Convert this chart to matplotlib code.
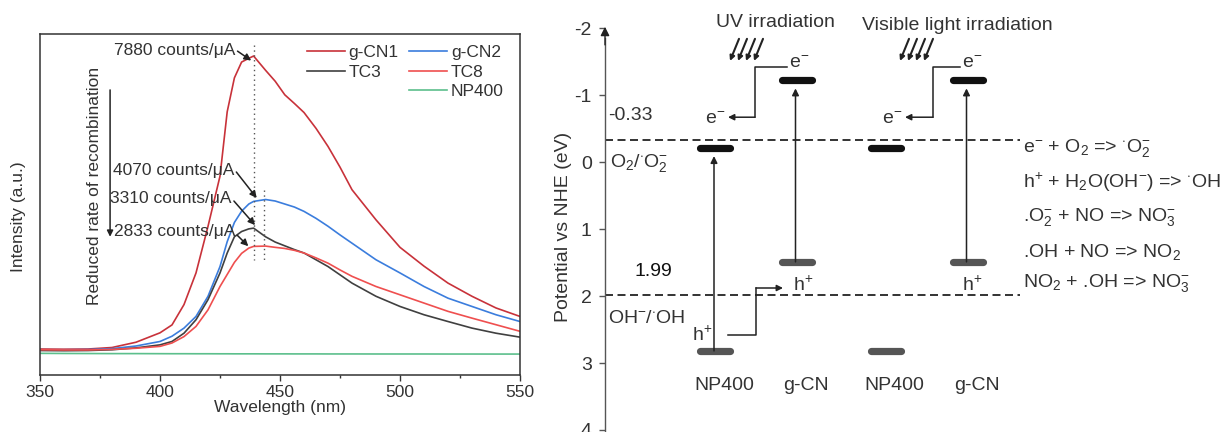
import matplotlib
matplotlib.use('Agg')
import matplotlib.pyplot as plt
from matplotlib.lines import Line2D

plt.rcParams['font.family'] = ['Liberation Sans', 'DejaVu Sans']
plt.rcParams['mathtext.fontset'] = 'custom'
plt.rcParams['mathtext.rm'] = 'Liberation Sans'
plt.rcParams['mathtext.it'] = 'Liberation Sans:italic'
plt.rcParams['mathtext.bf'] = 'Liberation Sans:bold'
plt.rcParams['axes.unicode_minus'] = False

# PL spectra (counts/uA)
wavelength = [350, 360, 370, 380, 390, 400, 405, 410, 415, 420, 425, 428, 431, 434,
              437, 439, 444, 448, 452, 456, 460, 465, 470, 475, 480, 490, 500, 510,
              520, 530, 540, 550]
gcn1 = [100, 95, 100, 140, 280, 530, 740, 1280, 2120, 3357, 4690, 6400, 7300, 7720,
        7820, 7880, 7500, 7210, 6850, 6620, 6380, 5960, 5480, 4930, 4330, 3530, 2800,
        2300, 1850, 1500, 1190, 965]
gcn2 = [80, 80, 85, 110, 180, 300, 440, 655, 965, 1500, 2290, 2950, 3460, 3760,
        3950, 4020, 4070, 4030, 3950, 3870, 3755, 3570, 3360, 3130, 2910, 2470, 2120,
        1760, 1450, 1230, 1010, 830]
tc3 = [60, 55, 60, 80, 130, 210, 300, 520, 877, 1410, 2120, 2650, 3080, 3220,
       3290, 3310, 3080, 2940, 2840, 2740, 2650, 2470, 2290, 2070, 1850, 1500, 1230,
       1010, 830, 655, 520, 415]
tc8 = [80, 75, 75, 90, 120, 170, 260, 430, 700, 1140, 1760, 2080, 2400, 2640,
       2780, 2825, 2833, 2800, 2770, 2720, 2650, 2520, 2380, 2200, 2030, 1760, 1540,
       1320, 1100, 920, 745, 570]
np400 = [-15, -18, -20, -22, -22, -24, -25, -25, -26, -26, -27, -27, -28, -28,
         -28, -28, -29, -29, -29, -30, -30, -30, -31, -31, -31, -32, -32, -32,
         -33, -33, -34, -34]

peak_values = [7880, 4070, 3310, 2833]

# band edges vs NHE (eV)
materials = ['NP400', 'g-CN', 'NP400', 'g-CN']
cb_edge = [-0.21, -1.22, -0.21, -1.22]
vb_edge = [2.82, 1.49, 2.82, 1.49]
excited = [True, True, False, True]
redox = [-0.33, 1.99]
reactions = [r'e$^{-}$ + O$_2$ => $^{\cdot}$O$_2^{-}$',
             r'h$^{+}$ + H$_2$O(OH$^{-}$) => $^{\cdot}$OH',
             r'.O$_2^{-}$ + NO => NO$_3^{-}$',
             r'.OH + NO => NO$_2$',
             r'NO$_2$ + .OH => NO$_3^{-}$']

W, H = 1221, 432
fig = plt.figure(figsize=(W / 100, H / 100), dpi=100)
txt = '#333333'

# ---------------- left: PL spectra ----------------
ax = fig.add_axes([40 / W, 1 - 375 / H, 480 / W, 341 / H])
fs = 12.5
l1, = ax.plot(wavelength, gcn1, color='#c8323a', lw=1.2, label='g-CN1')
l2, = ax.plot(wavelength, gcn2, color='#3b7ddd', lw=1.2, label='g-CN2')
l3, = ax.plot(wavelength, tc3, color='#404040', lw=1.2, label='TC3')
l4, = ax.plot(wavelength, tc8, color='#ef4f4f', lw=1.2, label='TC8')
l5, = ax.plot(wavelength, np400, color='#5cbf8c', lw=1.2, label='NP400')
ax.set_xlim(350, 550)
ax.set_ylim(-590, 8465)
ax.set_xticks([350, 400, 450, 500, 550])
ax.set_xticks([375, 425, 475, 525], minor=True)
ax.set_yticks([])
ax.tick_params(axis='x', which='major', direction='out', length=4, width=1,
               color='#333', labelsize=fs, labelcolor=txt, pad=3)
ax.tick_params(axis='x', which='minor', direction='out', length=2.5, width=1, color='#333')
for s in ax.spines.values():
    s.set_color('#333333')
    s.set_linewidth(1.1)
ax.set_xlabel('Wavelength (nm)', fontsize=fs, color=txt, labelpad=0)
fig.text(19 / W, 1 - 217 / H, 'Intensity (a.u.)', rotation=90, ha='center',
         va='center', fontsize=fs, color=txt)

blank = Line2D([], [], linestyle='none', label=' ')
ax.legend(handles=[l1, l3, blank, l2, l4, l5], ncol=2, frameon=False,
          loc='upper left', bbox_to_anchor=(0.556, 0.967), borderpad=0,
          borderaxespad=0, fontsize=fs, handlelength=2.2, handletextpad=0.2,
          columnspacing=0.6, labelspacing=0.25, labelcolor=txt)

# peak guide lines
ax.plot([439.3, 439.3], [8170, 2460], ls=(0, (1, 2.5)), color='#555555', lw=1)
ax.plot([443.5, 443.5], [4320, 2460], ls=(0, (1, 2.5)), color='#555555', lw=1)

# peak labels with arrows
label_xy = [(431.5, 8040), (430.8, 4853), (430.0, 4101), (431.5, 3214)]
arrow_from = [(432.3, 8010), (431.8, 4800), (430.8, 4030), (432.2, 3120)]
arrow_to = [(438.0, 7760), (440.3, 4110), (439.6, 3390), (436.8, 2830)]
for v, (tx, ty), a0, a1 in zip(peak_values, label_xy, arrow_from, arrow_to):
    ax.text(tx, ty, f'{v} counts/\u03bcA', ha='right', va='center', fontsize=fs, color=txt)
    ax.annotate('', xy=a1, xytext=a0,
                arrowprops=dict(arrowstyle='-|>', color='#222222', lw=1.1,
                                mutation_scale=10, shrinkA=0, shrinkB=0))

ax.annotate('', xy=(379.2, 3080), xytext=(379.2, 6980),
            arrowprops=dict(arrowstyle='-|>', color='#222222', lw=1.1,
                            mutation_scale=9, shrinkA=0, shrinkB=0))
ax.text(372.6, 4430, 'Reduced rate of recombination', rotation=90, ha='center',
        va='center', fontsize=fs, color=txt)

# ---------------- right: band diagram ----------------
fs2 = 14
ax2 = fig.add_axes([605 / W, 0, 616 / W, 1])
ax2.set_xlim(0, 616)
ax2.set_ylim(4.03, -2.42)
for s in ['top', 'right', 'bottom']:
    ax2.spines[s].set_visible(False)
ax2.spines['left'].set_bounds(-1.85, 4.03)
ax2.spines['left'].set_color('#555555')
ax2.spines['left'].set_linewidth(1.0)
ax2.set_xticks([])
ax2.set_yticks(range(-2, 5))
ax2.tick_params(axis='y', direction='out', length=4.5, width=1, color='#555555',
                labelsize=fs2, labelcolor=txt, pad=5)
ax2.annotate('', xy=(0, -2.02), xytext=(0, -1.75), annotation_clip=False,
             arrowprops=dict(arrowstyle='-|>', color='#222222', lw=1,
                             mutation_scale=13, shrinkA=0, shrinkB=0))
fig.text(563 / W, 1 - 227 / H, 'Potential vs NHE (eV)', rotation=90, ha='center',
         va='center', fontsize=fs2, color=txt)

# redox levels
for r in redox:
    ax2.plot([0, 415], [r, r], color='#111111', lw=1.2, ls=(0, (4.8, 2.7)))
ax2.text(3, -0.70, f'{redox[0]:.2f}', fontsize=fs2, color=txt, va='center')
ax2.text(5, 0.01, r'O$_2$/$^{\cdot}$O$_2^{-}$', fontsize=fs2, color=txt, va='center')
ax2.text(30, 1.64, f'{redox[1]:.2f}', fontsize=fs2, color='#111111', va='center')
ax2.text(3, 2.33, r'OH$^{-}$/$^{\cdot}$OH', fontsize=fs2, color=txt, va='center')

col_x = [110, 191.5, 280.5, 362.5]
for x, name, cb, vb, ex in zip(col_x, materials, cb_edge, vb_edge, excited):
    ax2.plot([x - 15, x + 15], [cb, cb], color='#111111', lw=5.2, solid_capstyle='round')
    ax2.plot([x - 15, x + 15], [vb, vb], color='#555555', lw=5.2, solid_capstyle='round')
    if ex:
        ax2.annotate('', xy=(x - 1, cb + 0.12), xytext=(x - 1, vb),
                     arrowprops=dict(arrowstyle='-|>', color='#222222', lw=1.1,
                                     mutation_scale=10, shrinkA=0, shrinkB=0))
    ax2.text(x + 9, 3.33, name, ha='center', va='center', fontsize=fs2, color=txt)

# electron transfer g-CN -> NP400
for top_x, mid_x, end_x in [(182, 150, 123), (355, 328, 300)]:
    ax2.plot([top_x, mid_x, mid_x], [-1.42, -1.42, -0.67], color='#222222', lw=1.1)
    ax2.annotate('', xy=(end_x, -0.67), xytext=(mid_x, -0.67),
                 arrowprops=dict(arrowstyle='-|>', color='#222222', lw=1.1,
                                 mutation_scale=9, shrinkA=0, shrinkB=0))
    ax2.text(top_x + 12, -1.48, r'e$^{-}$', ha='center', va='center', fontsize=fs2, color=txt)
    ax2.text(end_x - 13, -0.64, r'e$^{-}$', ha='center', va='center', fontsize=fs2, color=txt)

# hole transfer NP400 -> g-CN
ax2.plot([123, 151, 151], [2.58, 2.58, 1.88], color='#222222', lw=1.1)
ax2.annotate('', xy=(178, 1.88), xytext=(151, 1.88),
             arrowprops=dict(arrowstyle='-|>', color='#222222', lw=1.1,
                             mutation_scale=9, shrinkA=0, shrinkB=0))
ax2.text(97, 2.58, r'h$^{+}$', ha='center', va='center', fontsize=fs2, color=txt)
ax2.text(198, 1.84, r'h$^{+}$', ha='center', va='center', fontsize=fs2, color=txt)
ax2.text(367, 1.84, r'h$^{+}$', ha='center', va='center', fontsize=fs2, color=txt)

# light sources
for x0 in (125, 295):
    for k in range(4):
        xs = x0 + 8 * k
        ax2.annotate('', xy=(xs, -1.51), xytext=(xs + 9, -1.84),
                     arrowprops=dict(arrowstyle='-|>', color='#222222', lw=1.5,
                                     mutation_scale=7, shrinkA=0, shrinkB=0))
ax2.text(170, -2.09, 'UV irradiation', ha='center', va='center', fontsize=fs2, color=txt)
ax2.text(352, -2.04, 'Visible light irradiation', ha='center', va='center',
         fontsize=fs2, color=txt)

# reactions
for yy, rx in zip([-0.21, 0.31, 0.82, 1.34, 1.81], reactions):
    ax2.text(418, yy, rx, ha='left', va='center', fontsize=fs2, color=txt, clip_on=False)

fig.savefig('out.png', dpi=100)
